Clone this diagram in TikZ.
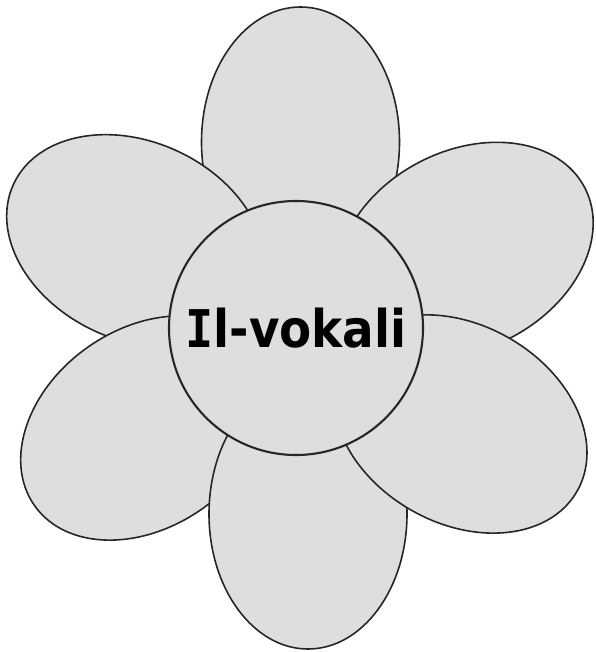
\documentclass[tikz,border=0pt]{standalone}
\usepackage{fontspec}
\usepackage{tikz}
\usetikzlibrary{shapes.geometric}
\newfontfamily\labelfont{DejaVu Sans}[FakeStretch=0.9]
\newfontfamily\barfont{DejaVu Sans Mono}[FakeStretch=0.9]
\definecolor{petalgray}{HTML}{DEDEDE}

\begin{document}
\begin{tikzpicture}[x=1pt, y=-1pt,
    petal/.style={ellipse, draw=black!85, line width=1.6pt, fill=petalgray, inner sep=0pt, minimum width=270pt, minimum height=198pt},
    heart/.style={circle, draw=black!85, line width=2.1pt, fill=petalgray, inner sep=0pt, minimum size=254pt}]
    \useasboundingbox (0,0) rectangle (595,652);

    % Petals, back to front
    \node[petal, rotate=90] (ptop) at (300.5,142) {};
    \node[petal, rotate=-25] (pupleft) at (136,241) {};
    \node[petal, rotate=27.5] (pupright) at (465,250) {};
    \node[petal, rotate=35] (plowleft) at (145,428) {};
    \node[petal, rotate=90] (pbottom) at (308,514) {};
    \node[petal, rotate=-30] (plowright) at (460,424) {};

    % Centre with the word
    \node[heart] (centre) at (296,328) {\fontsize{52}{52}\selectfont\labelfont\bfseries{\barfont I}l-vokali};
\end{tikzpicture}
\end{document}
